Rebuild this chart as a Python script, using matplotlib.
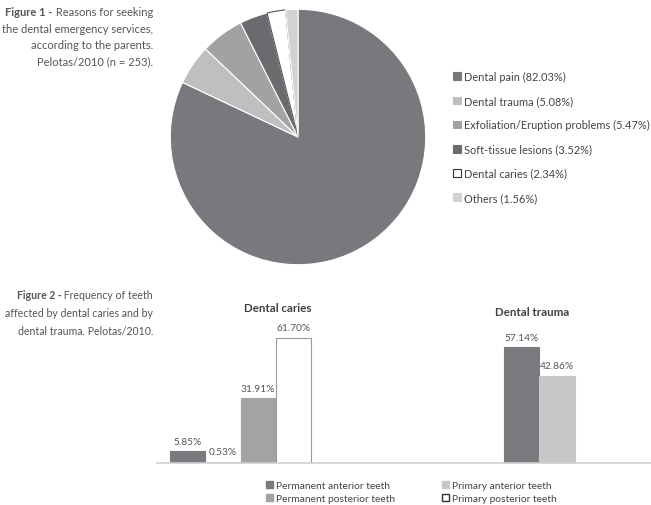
import numpy as np
import matplotlib
matplotlib.use('Agg')
import matplotlib.pyplot as plt
from matplotlib.patches import Patch

plt.rcParams['font.family'] = ['Lato', 'DejaVu Sans']

# Figure 1 - reasons (pie)
REASONS = ['Dental pain', 'Dental trauma', 'Exfoliation/Eruption problems',
           'Soft-tissue lesions', 'Dental caries', 'Others']
REASON_PCT = [82.03, 5.08, 5.47, 3.52, 2.34, 1.56]
PIE_COLORS = ['#78797c', '#bfbfbf', '#a2a2a2', '#6a6b6e', '#ffffff', '#d2d2d2']

# Figure 2 - teeth affected (grouped bars)
GROUPS = ['Dental caries', 'Dental trauma']
SERIES = ['Permanent anterior teeth', 'Primary anterior teeth',
          'Permanent posterior teeth', 'Primary posterior teeth']
perm_ant = [5.85, 57.14]
prim_ant = [0.53, 42.86]
perm_post = [31.91, 0.0]
prim_post = [61.70, 0.0]
BAR_COLORS = ['#7a7b7e', '#c8c8c8', '#a3a3a3', '#ffffff']

TXT = '#555555'
W, H = 651, 506

fig = plt.figure(figsize=(W / 100, H / 100), dpi=100)


def px_box(x0, y0, x1, y1):
    ''' pixel box (top-left origin) -> figure fraction rect '''
    return [x0 / W, 1 - y1 / H, (x1 - x0) / W, (y1 - y0) / H]


def caption(lines, bold, x, y0, step, size=8):
    ''' right aligned caption, bold figure number in front of the first line '''
    first = None
    for i, line in enumerate(lines):
        t = fig.text(x / W, 1 - (y0 + i * step) / H, line, ha='right', va='center',
                     size=size, color=TXT)
        if i == 0:
            first = t
    return plt.annotate(bold, xy=(0, 0.5), xycoords=first, ha='right', va='center',
                        size=size, color=TXT, weight='bold', annotation_clip=False)


# ---- pie ----
ax1 = fig.add_axes(px_box(169, 9, 427, 267))
wedges, _ = ax1.pie(REASON_PCT, colors=PIE_COLORS, startangle=90, counterclock=False,
                    wedgeprops=dict(edgecolor='white', linewidth=0.8))
wedges[4].set_edgecolor('#555555')
wedges[4].set_linewidth(0.8)
ax1.set_xlim(-1.01, 1.01)
ax1.set_ylim(-1.01, 1.01)

pie_labels = [f'{n} ({v:.2f}%)' for n, v in zip(REASONS, REASON_PCT)]
pie_handles = [Patch(facecolor=c, edgecolor=('#333333' if c == '#ffffff' else c), linewidth=0.8)
               for c in PIE_COLORS]
fig.legend(pie_handles, pie_labels, loc='upper left', bbox_to_anchor=(453 / W, 1 - 72 / H),
           frameon=False, fontsize=7.9, labelcolor='#444444', handlelength=0.7,
           handleheight=0.7, handletextpad=0.3, labelspacing=1.2, borderpad=0, borderaxespad=0)

# ---- bars ----
ax2 = fig.add_axes(px_box(157, 322, 651, 464))
x = np.arange(len(GROUPS))
bw = 0.105
for i, (vals, col) in enumerate(zip([perm_ant, prim_ant, perm_post, prim_post], BAR_COLORS)):
    pos = x + (i - 1.5) * bw
    bars = ax2.bar(pos, vals, bw, color=col,
                   edgecolor=('#9a9a9a' if col == '#ffffff' else col), linewidth=0.8)
    for b, v in zip(bars, vals):
        if v > 0:
            ax2.annotate(f'{v:.2f}%', (b.get_x() + b.get_width() / 2, v), xytext=(0, 4),
                         textcoords='offset points', ha='center', va='bottom',
                         size=7.3, color=TXT)

ax2.set_xlim(-0.25, 1.229)
ax2.set_ylim(0, 70)
for s in ['top', 'right', 'left']:
    ax2.spines[s].set_visible(False)
ax2.spines['bottom'].set_color('#d0d0d0')
ax2.spines['bottom'].set_linewidth(1.2)
ax2.set_xticks([])
ax2.set_yticks([])

# group titles
fig.text(278 / W, 1 - 309 / H, GROUPS[0], ha='center', va='center', size=8.3,
         weight='bold', color='#404040')
fig.text(532 / W, 1 - 312 / H, GROUPS[1], ha='center', va='center', size=8.3,
         weight='bold', color='#404040')

bar_handles = [Patch(facecolor=c, edgecolor=('#333333' if c == '#ffffff' else c)) for c in BAR_COLORS]
order = [0, 2, 1, 3]
fig.legend([bar_handles[i] for i in order], [SERIES[i] for i in order], ncol=2,
           loc='upper left', bbox_to_anchor=(266 / W, 1 - 482 / H), frameon=False,
           fontsize=7.4, labelcolor='#444444', handlelength=0.7, handleheight=0.7,
           handletextpad=0.3, columnspacing=4.5, labelspacing=0.35, borderpad=0,
           borderaxespad=0)

# ---- figure captions ----
caption([' Reasons for seeking', 'the dental emergency services,',
         'according to the parents.', 'Pelotas/2010 (n = 253).'],
        'Figure 1 -', 153, 13, 16.3)
caption([' Frequency of teeth', 'affected by dental caries and by',
         'dental trauma. Pelotas/2010.'],
        'Figure 2 -', 153, 296, 18, size=7.6)

fig.savefig('out.png', dpi=100)
